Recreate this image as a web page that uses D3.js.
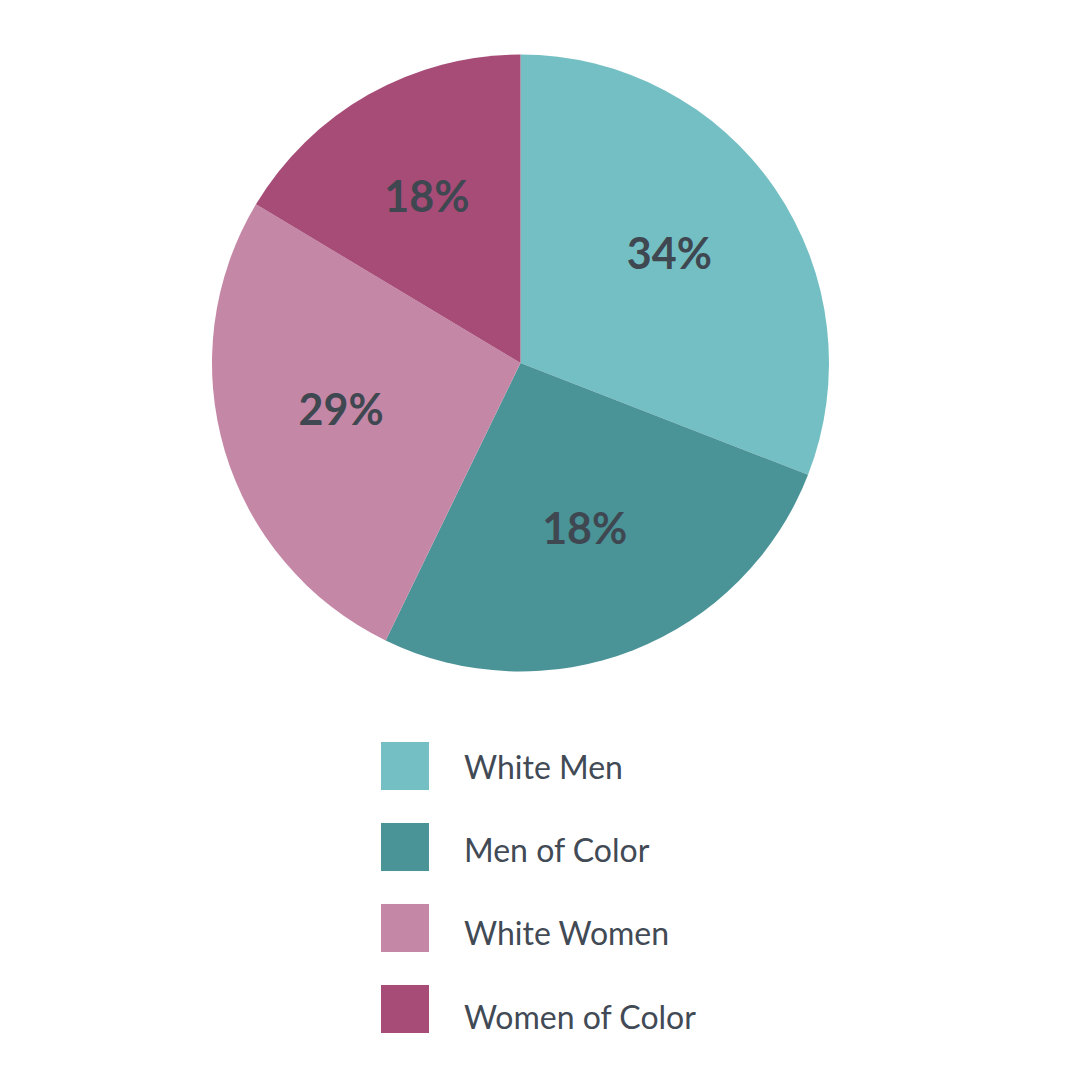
<!DOCTYPE html>
<html>
<head>
<meta charset="utf-8">
<script src="https://cdn.jsdelivr.net/npm/d3@7"></script>
<style>
  html, body { margin: 0; padding: 0; background: #ffffff; }
  svg { display: block; }
</style>
</head>
<body>
<svg id="chart" width="1080" height="1080"></svg>
<script>
// Data
const categories = ["White Men", "Men of Color", "White Women", "Women of Color"];
// slice sizes as drawn (measured from the slice angles)
const shares = [30.9, 26.3, 26.4, 16.4];
// percentage labels printed on the slices
const labelText = ["34%", "18%", "29%", "18%"];
const colors = ["#74bfc3", "#4a9397", "#c587a6", "#a64c77"];

const svg = d3.select("#chart");
const cx = 520.5, cy = 363, radius = 308.5;

const color = d3.scaleOrdinal().domain(categories).range(colors);

const data = categories.map((c, i) => ({ cat: c, value: shares[i], label: labelText[i] }));

const pie = d3.pie().sort(null).value(d => d.value);
const arcs = pie(data);

const arc = d3.arc().innerRadius(0).outerRadius(radius);
const labelArc = d3.arc().innerRadius(184).outerRadius(184);

const g = svg.append("g").attr("transform", `translate(${cx},${cy})`);

g.selectAll("path.slice")
  .data(arcs)
  .join("path")
  .attr("class", "slice")
  .attr("d", arc)
  .attr("fill", d => color(d.data.cat));

const labels = g.append("g").attr("transform", "translate(-3,-6)");
labels.selectAll("text.pct")
  .data(arcs)
  .join("text")
  .attr("class", "pct")
  .attr("transform", d => {
    const [x, y] = labelArc.centroid(d);
    return `translate(${x},${y})`;
  })
  .attr("text-anchor", "middle")
  .attr("dy", "0.36em")
  .attr("font-family", "Lato, 'Open Sans', sans-serif")
  .attr("font-weight", 700)
  .attr("font-size", 43)
  .attr("fill", "#3f4751")
  .text(d => d.data.label);

// Legend
const legendY = d3.scaleBand()
  .domain(categories)
  .range([742, 1033])
  .paddingInner(0.407);
const legendTextY = d3.scalePoint()
  .domain(categories)
  .range([767, 1017]);

const legend = svg.append("g");

legend.selectAll("rect.key")
  .data(categories)
  .join("rect")
  .attr("class", "key")
  .attr("x", 381)
  .attr("y", d => legendY(d))
  .attr("width", 48)
  .attr("height", legendY.bandwidth())
  .attr("fill", d => color(d));

legend.selectAll("text.key")
  .data(categories)
  .join("text")
  .attr("class", "key")
  .attr("x", 464)
  .attr("y", d => legendTextY(d))
  .attr("dy", "0.36em")
  .attr("font-family", "Lato, 'Open Sans', sans-serif")
  .attr("font-size", 32)
  .attr("fill", "#414a55")
  .text(d => d);
</script>
</body>
</html>
